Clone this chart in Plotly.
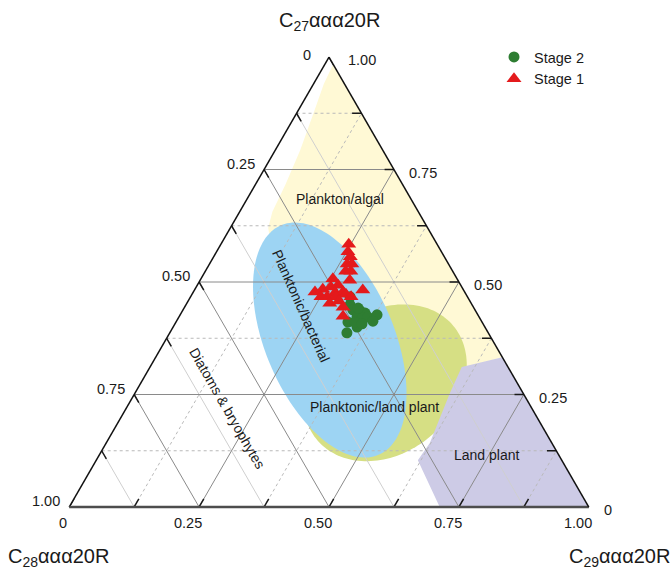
import numpy as np
import plotly.graph_objects as go

# ---- Sterane composition (fractions of C27 + C28 + C29 ααα20R) ----
stage1_c27 = [0.584, 0.567, 0.556, 0.540, 0.540, 0.524, 0.524, 0.504, 0.507, 0.482, 0.478, 0.484, 0.489,
              0.493, 0.476, 0.478, 0.467, 0.467, 0.473, 0.453, 0.458, 0.467, 0.444, 0.424, 0.467]
stage1_c28 = [0.170, 0.180, 0.181, 0.195, 0.186, 0.206, 0.196, 0.208, 0.239, 0.194, 0.288, 0.270, 0.252,
              0.236, 0.250, 0.234, 0.270, 0.253, 0.231, 0.272, 0.252, 0.224, 0.251, 0.261, 0.282]
stage1_c29 = [0.246, 0.253, 0.263, 0.265, 0.274, 0.270, 0.280, 0.288, 0.254, 0.324, 0.234, 0.246, 0.259,
              0.271, 0.274, 0.288, 0.263, 0.280, 0.296, 0.275, 0.290, 0.309, 0.305, 0.315, 0.251]

stage2_c27 = [0.449, 0.438, 0.436, 0.431, 0.422, 0.420, 0.422, 0.427, 0.413, 0.411, 0.400, 0.387,
              0.442, 0.467, 0.411, 0.407]
stage2_c28 = [0.235, 0.235, 0.222, 0.215, 0.235, 0.225, 0.214, 0.194, 0.209, 0.258, 0.246, 0.272,
              0.223, 0.226, 0.245, 0.233]
stage2_c29 = [0.316, 0.327, 0.342, 0.354, 0.343, 0.355, 0.364, 0.379, 0.378, 0.331, 0.354, 0.341,
              0.335, 0.307, 0.344, 0.360]

# ---- Source fields ----
algal_c27 = [0.984, 0.333, 0.309, 0.282, 0.393, 0.527, 0.620, 0.656, 0.716, 0.793, 0.878, 0.940]
algal_c28 = [0.000, 0.000, 0.090, 0.223, 0.283, 0.340, 0.307, 0.281, 0.226, 0.159, 0.090, 0.040]
algal_c29 = [0.016, 0.667, 0.601, 0.495, 0.324, 0.133, 0.073, 0.063, 0.058, 0.048, 0.032, 0.020]

land_c27 = [0.311, 0.333, 0.000, 0.000, 0.104, 0.142, 0.253]
land_c28 = [0.089, 0.000, 0.000, 0.287, 0.277, 0.235, 0.141]
land_c29 = [0.600, 0.667, 1.000, 0.713, 0.619, 0.623, 0.606]

# ellipses: centre (C27, C29), semi-axes in side-length units, tilt in degrees
bacterial_field = dict(c27=0.371, c29=0.316, r1=0.240, r2=0.124, tilt=-67)
landmix_field = dict(c27=0.276, c29=0.470, r1=0.171, r2=0.135, tilt=40)

tick_values = [0, 0.25, 0.5, 0.75, 1.0]
tick_labels = ["0", "0.25", "0.50", "0.75", "1.00"]
grid_values = [0.125, 0.25, 0.375, 0.5, 0.625, 0.75, 0.875]
tickmark_values = [0, 0.125, 0.25, 0.375, 0.5, 0.625, 0.75, 0.875, 1.0]

FONT = "Liberation Sans, Arial, sans-serif"
TXT = "#1a1a1a"
SQ3 = np.sqrt(3)


def ellipse(c27, c29, r1, r2, tilt, n=160):
    """Outline of a tilted ellipse, returned as ternary fractions."""
    cx, cy = c29 + c27 / 2, c27 * SQ3 / 2
    t = np.linspace(0, 2 * np.pi, n)
    th = np.radians(tilt)
    x = cx + r1 * np.cos(th) * np.cos(t) - r2 * np.sin(th) * np.sin(t)
    y = cy + r1 * np.sin(th) * np.cos(t) + r2 * np.cos(th) * np.sin(t)
    a = y * 2 / SQ3
    c = x - a / 2
    return a, 1 - a - c, c


def to_paper(a, b, c):
    return c + a / 2, a


fig = go.Figure()


def field(a, b, c, color):
    fig.add_trace(go.Scatterternary(a=list(a), b=list(b), c=list(c), mode="lines", fill="toself",
                                    fillcolor=color, line=dict(width=0, color=color),
                                    hoverinfo="skip", showlegend=False))


field(algal_c27, algal_c28, algal_c29, "#fff9d5")
field(*ellipse(**landmix_field), "#d6df84")
field(land_c27, land_c28, land_c29, "#cdcbe6")
field(*ellipse(**bacterial_field), "#9dd4f3")


def segments(kind, values):
    a, b, c = [], [], []
    for v in values:
        if kind == "a":
            pts = [(v, 1 - v, 0), (v, 0, 1 - v)]
        elif kind == "b":
            pts = [(1 - v, v, 0), (0, v, 1 - v)]
        else:
            pts = [(0, 1 - v, v), (1 - v, 0, v)]
        for p in pts:
            a.append(p[0]); b.append(p[1]); c.append(p[2])
        a.append(None); b.append(None); c.append(None)
    return a, b, c


def lines(a, b, c, color, width, dash="solid"):
    fig.add_trace(go.Scatterternary(a=a, b=b, c=c, mode="lines",
                                    line=dict(color=color, width=width, dash=dash),
                                    hoverinfo="skip", showlegend=False, connectgaps=False))


major = [v for v in grid_values if v in (0.25, 0.5, 0.75)]
minor = [v for v in grid_values if v not in major]

# minor grid
for k in ("a", "c"):
    lines(*segments(k, minor), "#b9b9b9", 1, "dot")
lines(*segments("b", minor), "#cfcfcf", 1)
# major grid
for k in ("a", "b", "c"):
    lines(*segments(k, major), "#8a8a8a", 1)

# tick marks along each labelled axis
TL = 0.018
ta, tb, tc = [], [], []
for v in tickmark_values:
    for p, q in (((1 - v, v, 0), (1 - v - TL, v, TL)),      # C28, left edge
                 ((v, 0, 1 - v), (v, TL, 1 - v - TL)),      # C27, right edge
                 ((0, 1 - v, v), (TL, 1 - v - TL, v))):     # C29, bottom edge
        ta += [p[0], q[0], None]; tb += [p[1], q[1], None]; tc += [p[2], q[2], None]
lines(ta, tb, tc, "#1a1a1a", 1.5)

# samples
fig.add_trace(go.Scatterternary(a=stage2_c27, b=stage2_c28, c=stage2_c29, mode="markers", name="Stage 2",
                                marker=dict(symbol="circle", size=11, color="#2e7d32", line=dict(width=0))))
fig.add_trace(go.Scatterternary(a=stage1_c27, b=stage1_c28, c=stage1_c29, mode="markers", name="Stage 1",
                                marker=dict(symbol="triangle-up", size=13, color="#e41a1c", line=dict(width=0))))

ann = []
for v, lab in zip(tick_values, tick_labels):
    x, y = to_paper(1 - v, v, 0)
    ann.append(dict(x=x, y=y, text=lab, xanchor="right", yanchor="middle",
                    xshift=-16 if v == 0 else -7, yshift=2 if v == 0 else 6))
    x, y = to_paper(v, 0, 1 - v)
    ann.append(dict(x=x, y=y, text=lab, xanchor="left", yanchor="middle",
                    xshift=17 if v == 1 else 13, yshift=-3))
    x, y = to_paper(0, 1 - v, v)
    ann.append(dict(x=x, y=y, text=lab, xanchor="center", yanchor="middle",
                    xshift=-6 if v == 0 else -11, yshift=-16))

for a_ in ann:
    a_.update(xref="paper", yref="paper", showarrow=False, font=dict(family=FONT, size=14.5, color=TXT))

titles = [
    dict(x=0.5, y=1.078, text="C<sub>27</sub>ααα20R"),
    dict(x=-0.021, y=-0.113, text="C<sub>28</sub>ααα20R"),
    dict(x=1.058, y=-0.113, text="C<sub>29</sub>ααα20R"),
]
for t in titles:
    t.update(xref="paper", yref="paper", showarrow=False, xanchor="center", yanchor="middle",
             font=dict(family=FONT, size=20, color=TXT))

regions = [
    dict(x=0.521, y=0.684, text="Plankton/algal", textangle=0),
    dict(x=0.446, y=0.446, text="Planktonic/bacterial", textangle=66),
    dict(x=0.304, y=0.220, text="Diatoms & bryophytes", textangle=60),
    dict(x=0.588, y=0.222, text="Planktonic/land plant", textangle=0),
    dict(x=0.804, y=0.116, text="Land plant", textangle=0),
]
for r in regions:
    r.update(xref="paper", yref="paper", showarrow=False, xanchor="center", yanchor="middle",
             font=dict(family=FONT, size=14, color=TXT))

axis_common = dict(showgrid=False, showticklabels=False, ticks="", title=dict(text=""),
                   linecolor="#111111", linewidth=1.5, min=0)

fig.update_layout(
    width=671, height=568, autosize=False,
    margin=dict(l=69, r=82, t=57, b=61),
    paper_bgcolor="white",
    font=dict(family=FONT, color=TXT),
    ternary=dict(
        sum=1, bgcolor="white",
        domain=dict(x=[0, 1], y=[0, 1]),
        aaxis=dict(axis_common),
        baxis=dict(axis_common, linecolor="#4d4d4d", linewidth=2.5),
        caxis=dict(axis_common),
    ),
    legend=dict(x=(494 - 69) / 520, y=(507 - 41) / 450, xanchor="left", yanchor="top",
                bgcolor="rgba(0,0,0,0)", font=dict(family=FONT, size=14.5, color=TXT),
                tracegroupgap=0),
    annotations=ann + titles + regions,
    showlegend=True,
)

fig.write_html("out.html")
